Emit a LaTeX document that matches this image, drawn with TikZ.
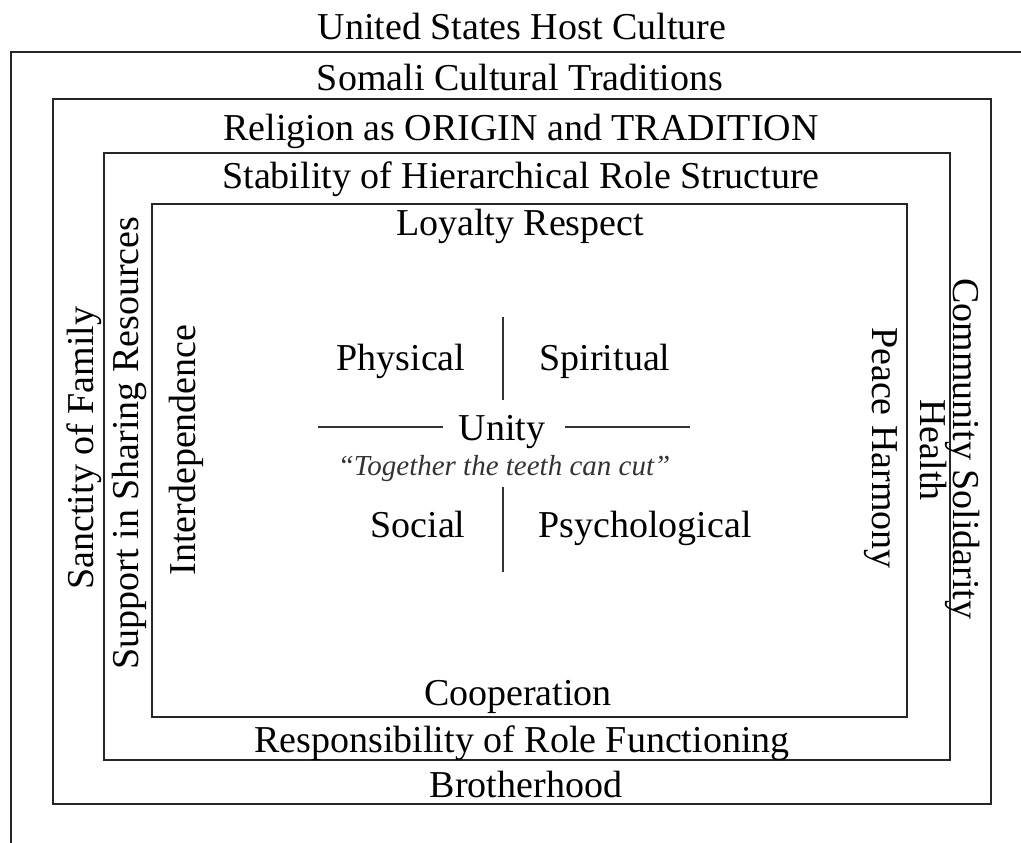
\documentclass[tikz,border=0pt]{standalone}
\usepackage{fontspec}
\setmainfont{Liberation Serif}
\usepackage{tikz}

\tikzset{
  frame/.style={draw=black!85, line width=2.8pt},
  bar/.style={draw=black!80, line width=2.8pt},
  lab/.style={font=\fontsize{38}{40}\selectfont, inner sep=0pt, anchor=base},
  saying/.style={font=\fontsize{29}{31}\selectfont\itshape, inner sep=0pt, anchor=base, text=black!80}
}

\begin{document}
\begin{tikzpicture}[x=1pt, y=-1pt]

\useasboundingbox (0,0) rectangle (1021,843);

% nested frames, the outer one runs off the page
\draw[frame] (1021,52) -- (11,52) -- (11,843);
\draw[frame] (53,99) rectangle (991,804);
\draw[frame] (104,153) rectangle (950,760);
\draw[frame] (152,204) rectangle (907,717);

%% top and bottom labels
\path
(522,40) node[lab] (host){United States Host Culture}
(520,91) node[lab] (somali){Somali Cultural Traditions}
(521,140) node[lab] (religion){Religion as ORIGIN and TRADITION}
(521,188) node[lab] (stability){Stability of Hierarchical Role Structure}
(520,235) node[lab] (loyalty){Loyalty Respect}
(518,705) node[lab] (coop){Cooperation}
(522,752) node[lab] (respons){Responsibility of Role Functioning}
(526,797) node[lab] (brother){Brotherhood};

%% side labels
\path
(93,448) node[lab, rotate=90] (family){Sanctity of Family}
(138,443) node[lab, rotate=90] (support){Support in Sharing Resources}
(195,450) node[lab, rotate=90] (interdep){Interdependence}
(953,449) node[lab, rotate=-90] (community){Community Solidarity}
(920,450) node[lab, rotate=-90] (health){Health}
(872,448) node[lab, rotate=-90] (peace){Peace Harmony};

%% centre cross
\path
(401,370) node[lab] (physical){Physical}
(605,370) node[lab] (spiritual){Spiritual}
(502,440) node[lab] (unity){Unity}
(504,475) node[saying] (saying){``Together the teeth can cut''}
(418,537) node[lab] (social){Social}
(645,537) node[lab] (psycho){Psychological};

\draw[bar] (503,317) -- (503,400);
\draw[bar] (503,487) -- (503,572);
\draw[bar] (318,427) -- (443,427);
\draw[bar] (565,427) -- (690,427);

\end{tikzpicture}
\end{document}
